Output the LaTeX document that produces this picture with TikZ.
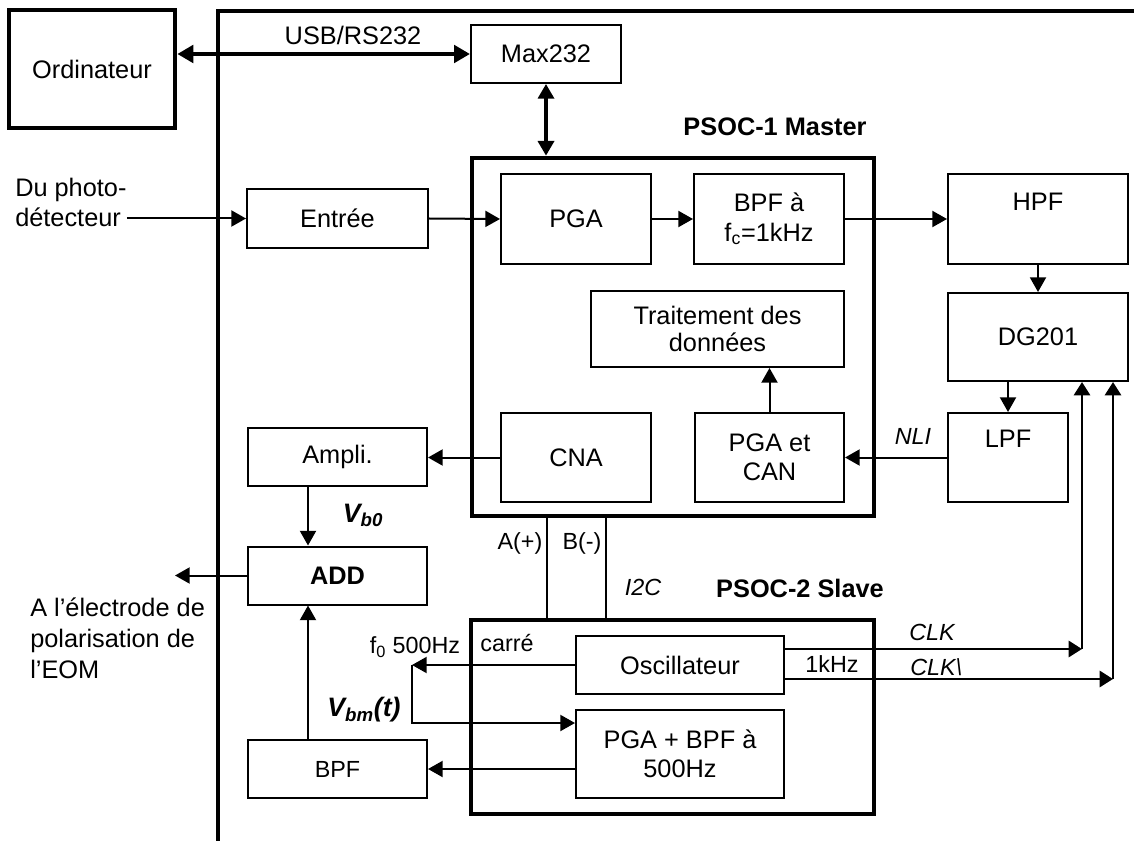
\documentclass[tikz,border=0pt]{standalone}
\usepackage{fontspec}
\setmainfont{Liberation Sans}
\usetikzlibrary{arrows.meta}

\tikzset{
  blk/.style={draw, line width=1.5pt, inner sep=1pt, align=center, font=\fontsize{19}{22}\selectfont},
  chip/.style={draw, line width=3.5pt, inner sep=0pt},
  arr/.style={line width=1.5pt, -{Triangle[length=11pt,width=12pt]}},
  clk/.style={line width=2.2pt, -{Triangle[length=10pt,width=12pt]}},
  bus/.style={line width=3.2pt, {Triangle[length=12pt,width=13pt]}-{Triangle[length=12pt,width=13pt]}},
  bus2/.style={line width=2.5pt, {Triangle[length=11pt,width=12pt]}-{Triangle[length=11pt,width=12pt]}},
  lbl/.style={font=\fontsize{19}{22}\selectfont, inner sep=0pt},
  sml/.style={font=\fontsize{17.5}{20}\selectfont, inner sep=0pt},
}

\begin{document}
\begin{tikzpicture}[x=0.75pt, y=-0.75pt]
	\useasboundingbox (0,0) rectangle (1134,841);
	% frame of the board
	\draw[line width=3.5pt] (218,841) -- (218,11) -- (1134,11);

	\node[blk, line width=3.5pt, minimum width=124.5pt, minimum height=88.5pt] (ordi) at (92,69) {Ordinateur};
	\node[blk, minimum width=112.5pt, minimum height=43.5pt] (max) at (546,54) {Max232};
	\node[lbl] (usb) at (353,35) {USB/RS232};

	% PSOC-1
	\node[chip, minimum width=301.5pt, minimum height=268.5pt] (psoc1) at (673,337) {};
	\node[lbl, font=\fontsize{19}{22}\selectfont\bfseries] (m1) at (775,127) {PSOC-1 Master};
	\node[blk, minimum width=112.5pt, minimum height=67.5pt] (pga) at (576,219) {PGA};
	\node[blk, minimum width=112.5pt, minimum height=67.5pt] (bpf1) at (769,219) {BPF à\\f\textsubscript{c}=1kHz};
	\node[blk, minimum width=189.75pt, minimum height=57pt] (trait) at (717.5,329) {Traitement des\\[-2pt]données};
	\node[blk, minimum width=112.5pt, minimum height=66.75pt] (cna) at (576,457.5) {CNA};
	\node[blk, minimum width=111.75pt, minimum height=66.75pt] (pgacan) at (769.5,457.5) {PGA et\\CAN};

	% right column
	\node[blk, minimum width=135pt, minimum height=67.5pt] (hpf) at (1038,219) {HPF\\[3.5pt]\mbox{}};
	\node[blk, minimum width=135pt, minimum height=66pt] (dg) at (1038,337) {DG201};
	\node[blk, minimum width=90pt, minimum height=66.75pt] (lpf) at (1008,457.5) {LPF\\[5.8pt]\mbox{}};

	% left column
	\node[lbl, align=left, font=\fontsize{19}{22.5}\selectfont] (src) at (15,202) [anchor=west] {Du photo-\\détecteur};
	\node[blk, minimum width=135.75pt, minimum height=44.25pt] (entree) at (337.5,218.5) {Entrée};
	\node[blk, minimum width=134.25pt, minimum height=43.5pt] (ampli) at (337.5,457) {Ampli.};
	\node[blk, minimum width=134.25pt, minimum height=43.5pt, font=\fontsize{19}{22}\selectfont\bfseries] (add) at (337.5,575.5) {ADD};
	\node[blk, minimum width=134.25pt, minimum height=43.5pt, font=\fontsize{17.5}{20}\selectfont] (bpf2) at (337.5,769) {BPF};
	\node[lbl, align=left, font=\fontsize{19}{23.25}\selectfont] (eomtxt) at (30,598) [anchor=north west] {A l’électrode de\\polarisation de\\l’EOM};
	\node[lbl, font=\fontsize{20}{22}\selectfont\bfseries\itshape] (vb0) at (363,515) {V\textsubscript{b0}};
	\node[lbl, font=\fontsize{20}{22}\selectfont\bfseries\itshape] (vbm) at (364,710) {V\textsubscript{bm}(t)};

	% PSOC-2
	\node[chip, minimum width=302.25pt, minimum height=145.5pt] (psoc2) at (672.5,717) {};
	\node[lbl, font=\fontsize{19}{22}\selectfont\bfseries] (m2) at (800,588) {PSOC-2 Slave};
	\node[blk, minimum width=156pt, minimum height=43.5pt] (osc) at (680,665) {Oscillateur};
	\node[blk, minimum width=156pt, minimum height=66pt] (pgabpf) at (680,754) {PGA + BPF à\\500Hz};

	% small labels
	\node[sml] (ap) at (520,543) {A(+)};
	\node[sml] (bm) at (582,543) {B(-)};
	\node[sml, font=\fontsize{17.5}{20}\selectfont\itshape] (i2c) at (643,587) {I2C};
	\node[sml] (carre) at (507,643) {carré};
	\node[sml] (f0) at (415,647) {f\textsubscript{0} 500Hz};
	\node[sml] (khz) at (832,664) {1kHz};
	\node[sml, font=\fontsize{17.5}{20}\selectfont\itshape, anchor=west] (clk) at (909,632) {CLK};
	\node[sml, font=\fontsize{17.5}{20}\selectfont\itshape, anchor=west] (nclk) at (910,667) {CLK\textbackslash};
	\node[sml, font=\fontsize{17.5}{20}\selectfont\itshape] (nli) at (913,436) {NLI};

	\coordinate (vb) at (308,0);
	\coordinate (eom) at (175,575.5);
	\coordinate (sq) at (412,665);
	\coordinate (pa) at (547,0);
	\coordinate (pb) at (606,0);
	\coordinate (ck) at (1082,649);
	\coordinate (nck) at (1113,679);

	% links
	\draw[bus] (ordi.east |- max.west) -- (max.west);
	\draw[bus2] (max.south) -- (max.south |- psoc1.north);
	\draw[arr] (entree.west -| src.east) -- (entree.west);
	\draw[arr] (entree.east) -- (pga.west);
	\draw[arr] (pga) -- (bpf1);
	\draw[arr] (bpf1) -- (hpf);
	\draw[arr] (hpf.south) -- (dg.north);
	\draw[arr] (dg.south -| lpf.north) -- (lpf.north);
	\draw[arr] (lpf.west) -- (pgacan.east);
	\draw[arr] (pgacan.north) -- (pgacan.north |- trait.south);
	\draw[arr] (cna.west) -- (cna.west -| ampli.east);
	\draw[arr] (ampli.south -| vb) -- (add.north -| vb);
	\draw[arr] (bpf2.north -| vb) -- (add.south -| vb);
	\draw[arr] (add.west) -- (eom);
	\draw[arr] (osc.west) -- (sq);
	\draw[arr] (sq) |- ([yshift=-10.5pt]pgabpf.north west);
	\draw[arr] (bpf2.east -| pgabpf.west) -- (bpf2.east);
	\draw[line width=1.1pt] (psoc1.south -| pa) -- (psoc2.north -| pa);
	\draw[line width=1.1pt] (psoc1.south -| pb) -- (psoc2.north -| pb);
	\draw[clk] (osc.east |- ck) -- (ck);
	\draw[clk] (ck) -- (ck |- dg.south);
	\draw[clk] (osc.east |- nck) -- (nck);
	\draw[clk] (nck) -- (nck |- dg.south);
\end{tikzpicture}
\end{document}
